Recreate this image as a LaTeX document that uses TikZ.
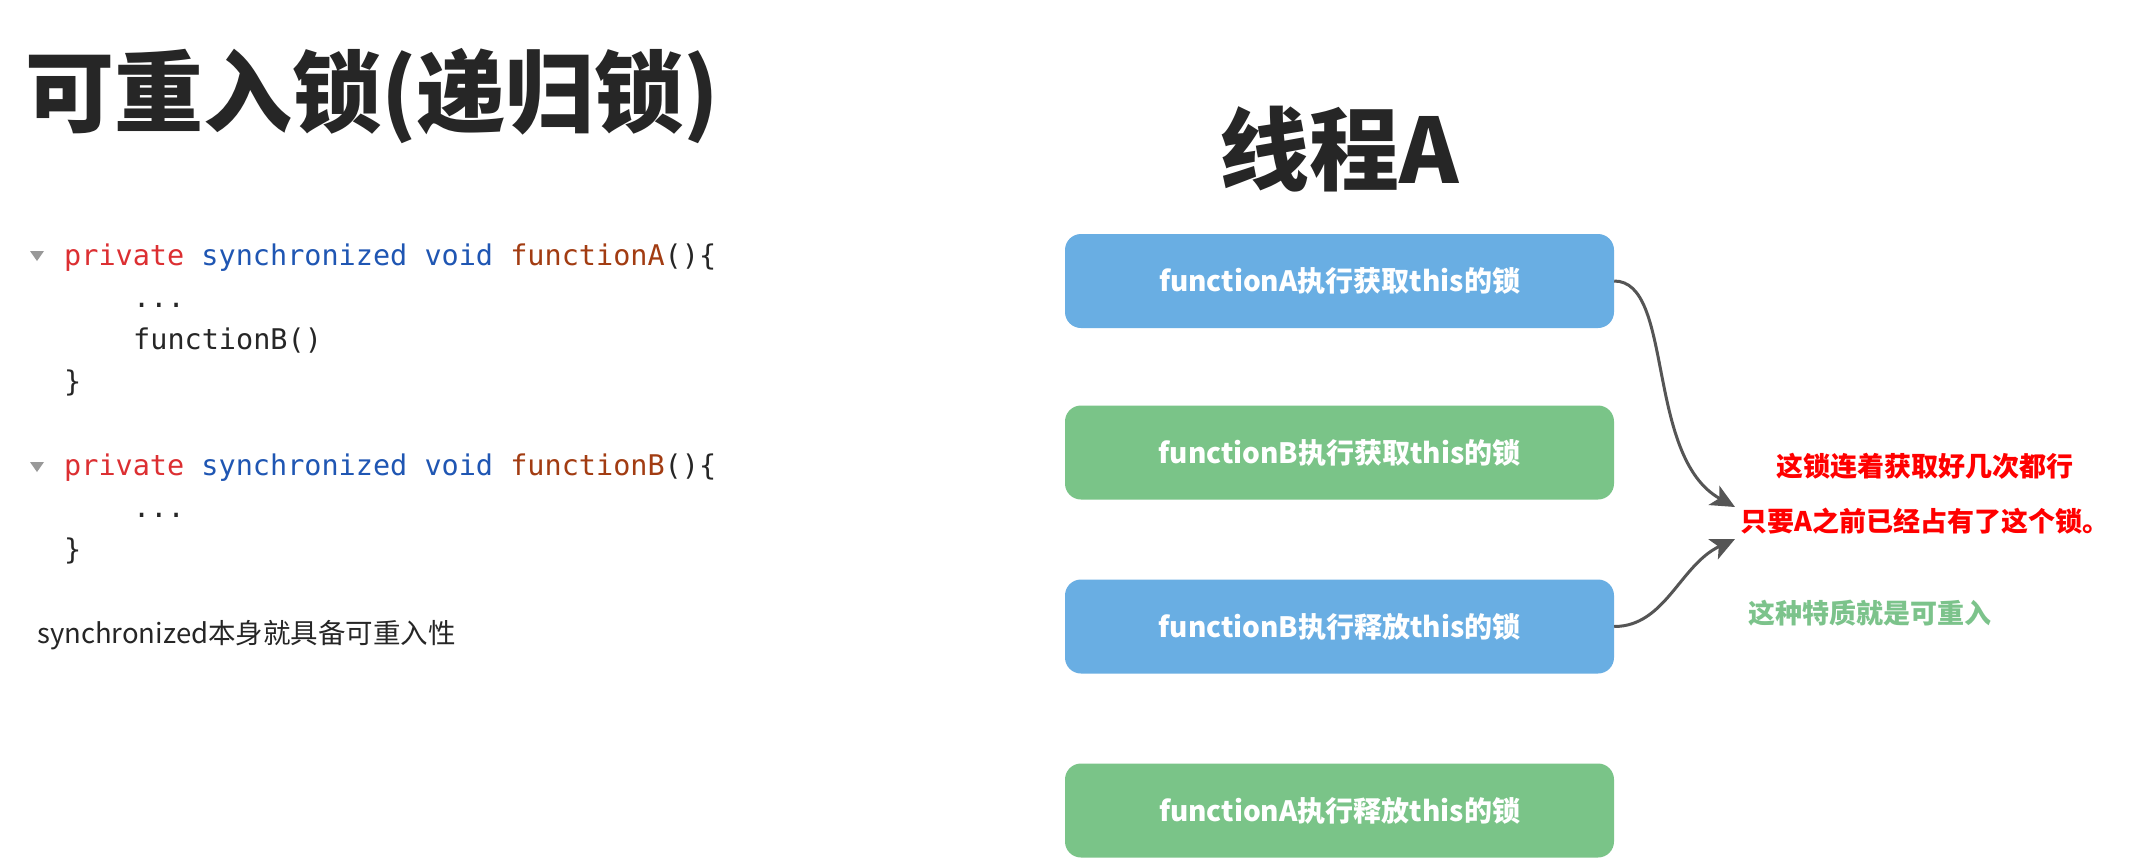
\documentclass[tikz,border=0pt]{standalone}
\usepackage{fontspec}
\usetikzlibrary{arrows.meta}
\newfontfamily\cjk{Noto Sans CJK SC}
\newfontfamily\codefont{DejaVu Sans Mono}
\definecolor{boxblue}{HTML}{69AEE3}
\definecolor{boxgreen}{HTML}{7AC488}
\definecolor{kwred}{HTML}{DC2F32}
\definecolor{kwblue}{HTML}{1F56B3}
\definecolor{fnbrown}{HTML}{A23C12}
\definecolor{ink}{HTML}{262626}
\definecolor{arrowgray}{HTML}{555555}
\definecolor{notegreen}{HTML}{7CC38B}
\tikzset{
  stepbox/.style={rounded corners=16pt, minimum width=549pt, minimum height=94pt,
    inner sep=0pt, text=white, font=\cjk\bfseries\fontsize{28}{34}\selectfont},
  codeline/.style={anchor=base west, inner sep=0pt, text=ink,
    font=\codefont\fontsize{28.5}{34}\selectfont},
  conn/.style={draw=arrowgray, line width=3pt,
    -{Stealth[length=24pt,width=22pt,inset=6pt]}},
}
\begin{document}
\begin{tikzpicture}[x=1pt,y=-1pt]
  \useasboundingbox (0,0) rectangle (2150,863);
  \fill[white] (0,0) rectangle (2150,863);
  % left half: title and code
  \node[anchor=west, inner sep=0pt, text=ink, font=\cjk\bfseries\fontsize{89}{100}\selectfont] (title) at (25,96) {可重入锁(递归锁)};
  \fill[gray!80] (30,251)--(44,251)--(37,261)--cycle;
  \node[codeline] (codeA) at (64,265) {\textcolor{kwred}{private} \textcolor{kwblue}{synchronized void} \textcolor{fnbrown}{functionA}()\{};
  \node[codeline] (bodyA) at (133,307) {...};
  \node[codeline] (callB) at (133,349) {functionB()};
  \node[codeline] (endA) at (64,391) {\}};
  \fill[gray!80] (30,462)--(44,462)--(37,472)--cycle;
  \node[codeline] (codeB) at (64,475) {\textcolor{kwred}{private} \textcolor{kwblue}{synchronized void} \textcolor{fnbrown}{functionB}()\{};
  \node[codeline] (bodyB) at (133,517) {...};
  \node[codeline] (endB) at (64,559) {\}};
  \node[anchor=west, inner sep=0pt, text=ink, font=\cjk\fontsize{27.5}{34}\selectfont] (remark) at (37,635) {synchronized本身就具备可重入性};
  % right half: thread A
  \node[text=ink, font=\cjk\bfseries\fontsize{90}{100}\selectfont] (thread) at (1339,149) {线程A};
  \node[stepbox, fill=boxblue] (getA) at (1339.5,281) {functionA执行获取this的锁};
  \node[stepbox, fill=boxgreen] (getB) at (1339.5,452.5) {functionB执行获取this的锁};
  \node[stepbox, fill=boxblue] (relB) at (1339.5,626.5) {functionB执行释放this的锁};
  \node[stepbox, fill=boxgreen] (relA) at (1339.5,810.5) {functionA执行释放this的锁};
  \node[text=red, align=center, font=\cjk\bfseries\fontsize{27}{55}\selectfont] (note) at (1925,493.5) {这锁连着获取好几次都行\\只要A之前已经占有了这个锁。};
  \node[text=notegreen, font=\cjk\bfseries\fontsize{27}{34}\selectfont] (trait) at (1870,613) {这种特质就是可重入};
  \coordinate (tipA) at (1735,507);
  \coordinate (tipB) at (1735,539);
  \draw[conn] (getA.east) .. controls +(60,0) and +(-90,-50) .. (tipA);
  \draw[conn] (relB.east) .. controls +(51,0) and +(-55,26) .. (tipB);
\end{tikzpicture}
\end{document}
